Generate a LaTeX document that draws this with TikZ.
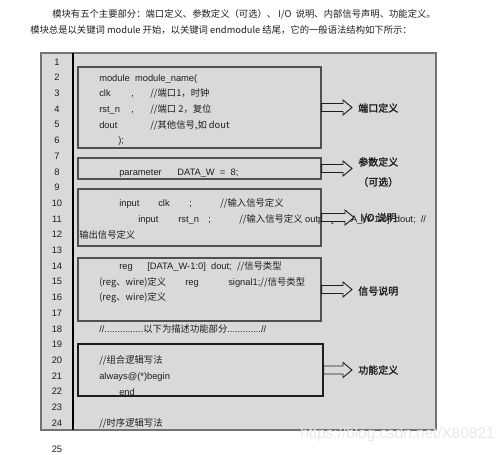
\documentclass[tikz,border=0pt]{standalone}
\usepackage{fontspec}
\setmainfont{Liberation Sans}
\newfontfamily\cjk{Noto Sans CJK SC}
\newfontfamily\cjkb[FakeBold=1.5]{Noto Sans CJK SC}
\usetikzlibrary{fit,calc}

\definecolor{panelgray}{HTML}{D9D9D9}
\definecolor{boxline}{HTML}{505050}
\definecolor{ink}{HTML}{1E1E1E}

\newcommand\zh[1]{{\cjk #1}}
% hollow block arrow from a box to its label
\newcommand\fatarrow[2]{%
  \draw[fat] (#2.west |- #1.east) ++(-6,0) coordinate (tip) -- ++(-9,-7.5) -- ++(0,3.5)
    -- ($(#1.east)+(0,-4)$) -- ($(#1.east)+(0,4)$) -- ($(tip)+(-9,4)$) -- ++(0,3.5) -- cycle;}

\tikzset{
  panel/.style={draw=black!55, line width=0.8pt, fill=panelgray, inner sep=0pt},
  blk/.style={draw=boxline, line width=0.8pt, inner sep=0pt},
  fat/.style={draw=ink, line width=0.7pt, fill=panelgray, line join=miter},
  num/.style={inner sep=0pt, text=ink, font=\fontsize{7}{8.4}\selectfont},
  code/.style={anchor=west, inner sep=0pt, text=ink, text height=0.72em, text depth=0.2em,
    font=\fontsize{7}{8.4}\selectfont},
  tag/.style={anchor=west, inner sep=0pt, text=ink, align=center,
    font=\cjkb\fontsize{7.5}{15}\selectfont},
  para/.style={anchor=west, inner sep=0pt, text=ink, font=\cjk\fontsize{7}{8.4}\selectfont}
}

\begin{document}
\begin{tikzpicture}[x=0.75pt,y=-0.75pt]
  \useasboundingbox (0,0) rectangle (502,454);
  % intro
  \node[para] (p1) at (52,14) {模块有五个主要部分：端口定义、参数定义（可选）、 I/O\ \ 说明、内部信号声明、功能定义。};
  \node[para] (p2) at (30,30) {模块总是以关键词 module 开始，以关键词 endmodule 结尾，它的一般语法结构如下所示：};
  % gray panel + number column
  \node[panel, fit={(41,53) (436,430)}] (frame) {};
  \draw[line width=1.5pt, black] (73,53) -- (73,430);
  \foreach \n in {1,...,24}
    \node[num] (n\n) at (57,{62+15.7*(\n-1)}) {\n};
  % the five parts
  \node[blk, fit={(78,67) (321,148)}] (port) {};
  \node[blk, fit={(78,158) (321,179)}] (parm) {};
  \node[blk, fit={(78,189) (321,246)}] (iodef) {};
  \node[blk, fit={(78,258) (321,321)}] (sigdef) {};
  \node[blk, draw=ink, fit={(78,344) (323,396)}] (func) {};
  % lines 2-6
  \node[code] (c2) at (99,77.7) {module\ \ module\_name(};
  \node[code] (c3a) at (99,93.4) {clk};
  \node[code] (c3b) at (131,93.4) {,};
  \node[code] (c3c) at (150,93.4) {\zh{//端口1，时钟}};
  \node[code] (c4a) at (99,109.1) {rst\_n};
  \node[code] (c4b) at (131,109.1) {,};
  \node[code] (c4c) at (150,109.1) {\zh{//端口 2，复位}};
  \node[code] (c5a) at (99,124.8) {dout};
  \node[code] (c5b) at (150,124.8) {\zh{//其他信号,如 dout}};
  \node[code] (c6) at (118,140.5) {);};
  % line 8
  \node[code] (c8a) at (119,171.9) {parameter};
  \node[code] (c8b) at (177,171.9) {DATA\_W\ \ =\ \ 8;};
  % lines 10-12
  \node[code] (c10a) at (119,203.3) {input};
  \node[code] (c10b) at (158,203.3) {clk};
  \node[code] (c10c) at (189,203.3) {;};
  \node[code] (c10d) at (220,203.3) {\zh{//输入信号定义}};
  \node[code] (c11a) at (138,219) {input};
  \node[code] (c11b) at (178,219) {rst\_n};
  \node[code] (c11c) at (208,219) {;};
  \node[code] (c11d) at (239,219) {\zh{//输入信号定义} output[DATA\_W-1:0]\ \ dout;\ \ //};
  \node[code] (c12) at (79,234.7) {\zh{输出信号定义}};
  % lines 14-16
  \node[code] (c14a) at (119,266.1) {reg};
  \node[code] (c14b) at (147,266.1) {[DATA\_W-1:0]\ \ dout;\ \ \zh{//信号类型}};
  \node[code] (c15a) at (99,281.8) {\zh{(reg、wire)定义}};
  \node[code] (c15b) at (185,281.8) {reg};
  \node[code] (c15c) at (228,281.8) {signal1;\zh{//信号类型}};
  \node[code] (c16) at (99,297.5) {\zh{(reg、wire)定义}};
  \node[code] (c18) at (99,328.9) {//...............\zh{以下为描述功能部分}.............//};
  % lines 20-24
  \node[code] (c20) at (99,360.3) {\zh{//组合逻辑写法}};
  \node[code] (c21) at (99,376) {always@(*)begin};
  \node[code] (c22) at (119,391.7) {end};
  \node[code] (c24) at (99,423.1) {\zh{//时序逻辑写法}};
  % labels and arrows
  \node[tag] (tport) at (358,108) {端口定义};
  \node[tag] (tparm) at (358,172) {参数定义\\（可选）};
  \node[tag] (tio) at (360,218) {I/O 说明};
  \node[tag] (tsig) at (358,291) {信号说明};
  \node[tag] (tfunc) at (358,370) {功能定义};
  \fatarrow{port}{tport}
  \fatarrow{parm}{tparm}
  \fatarrow{iodef}{tio}
  \fatarrow{sigdef}{tsig}
  \fatarrow{func}{tfunc}
  % page number, watermark
  \node[num] (pg) at (57,449) {25};
  \node[anchor=west, inner sep=0pt, text=black!9, font=\fontsize{11.5}{12}\selectfont] (csdn) at (300,435) {https://blog.csdn.net/X80821};
\end{tikzpicture}
\end{document}
